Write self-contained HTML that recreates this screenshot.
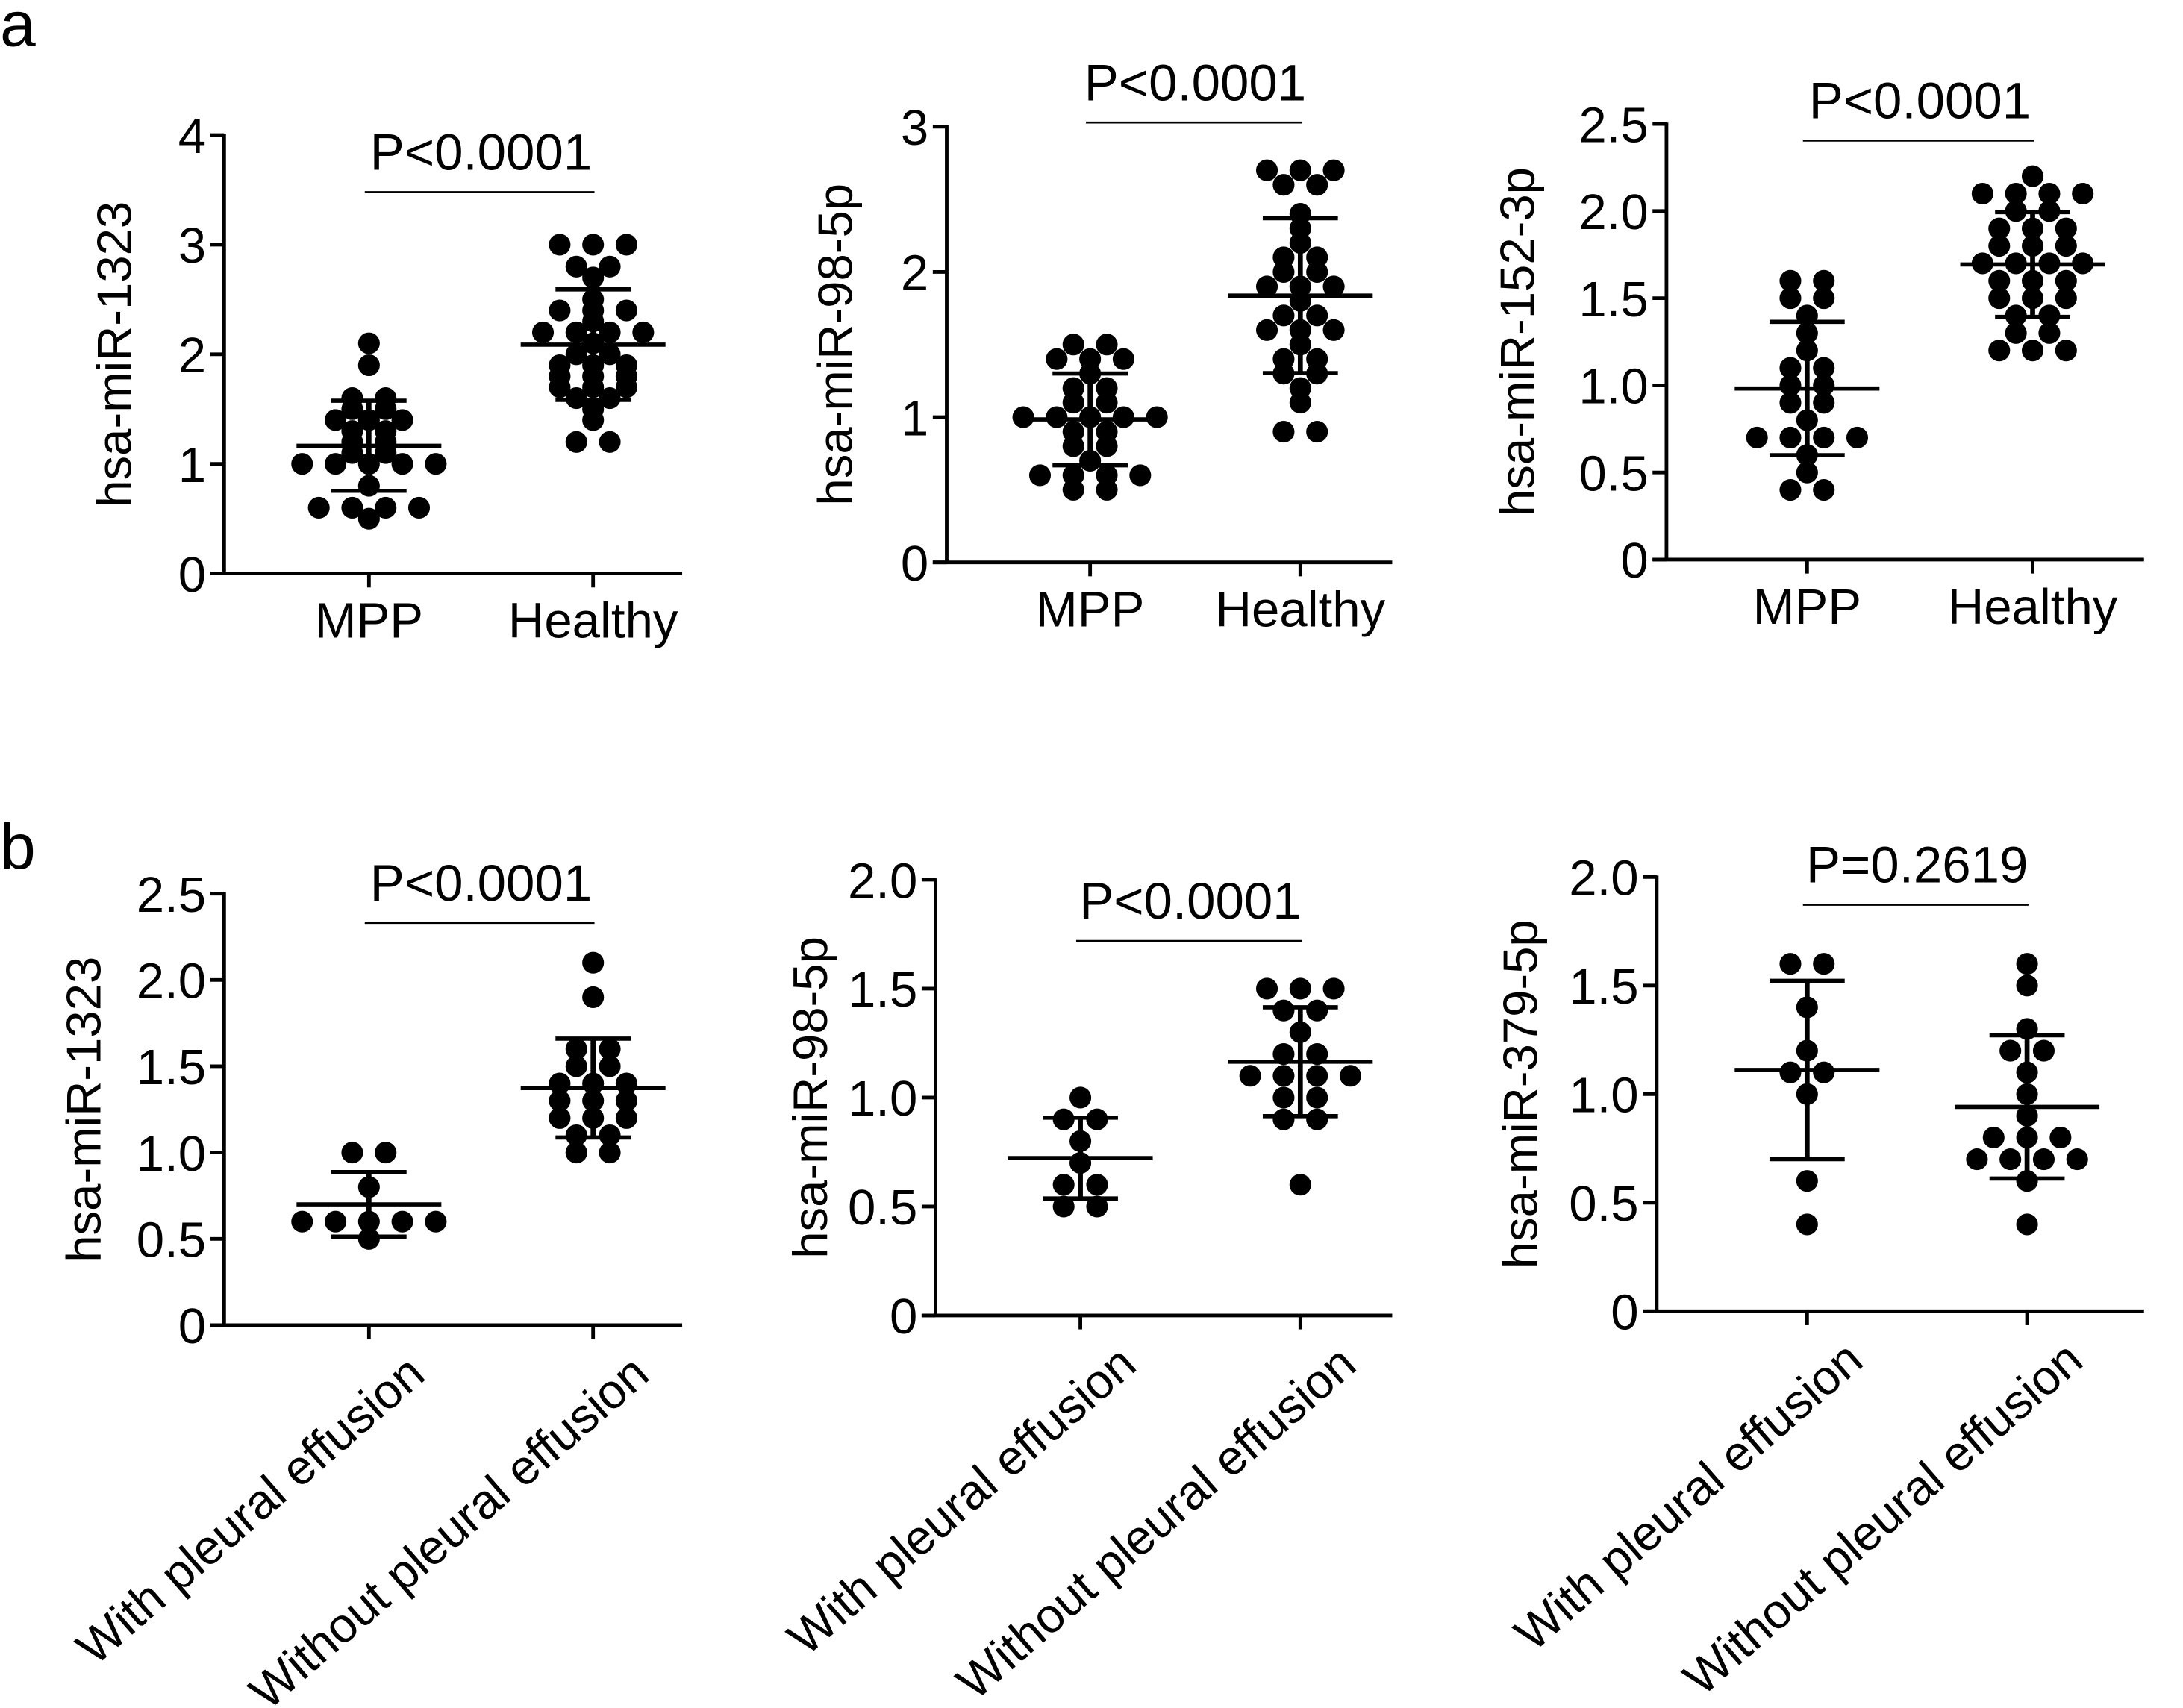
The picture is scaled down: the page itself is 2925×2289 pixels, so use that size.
<!DOCTYPE html>
<html><head><meta charset="utf-8"><style>
html,body{margin:0;padding:0;background:#fff;}
svg{display:block;}
text{font-family:"Liberation Sans",Arial,sans-serif;fill:#000;}
</style></head><body>
<svg id="fig" width="2925" height="2289" viewBox="0 0 1568 1227" xmlns="http://www.w3.org/2000/svg">
<text x="0" y="33" font-size="46">a</text>
<text x="0" y="624" font-size="46">b</text>
</svg>
<script>
// ---- data ----
const catsA = ["MPP","Healthy"];
const catsB = ["With pleural effusion","Without pleural effusion"];
const a1Mpp = [2.1,1.9,1.6,1.6,1.5,1.5,1.4,1.4,1.4,1.3,1.3,1.2,1.2,1.1,1.1,1.0,1.0,1.0,1.0,1.0,0.8,0.6,0.6,0.6,0.6,0.5];
const a1Healthy = [3,3,3,2.8,2.8,2.7,2.5,2.4,2.4,2.4,2.3,2.2,2.2,2.2,2.2,2.1,2.0,2.0,1.9,1.9,1.9,1.8,1.8,1.8,1.7,1.7,1.7,1.6,1.6,1.5,1.4,1.2,1.2];
const a2Mpp = [1.5,1.5,1.4,1.4,1.4,1.3,1.2,1.2,1.1,1.1,1.0,1.0,1.0,1.0,1.0,0.9,0.9,0.8,0.8,0.7,0.6,0.6,0.6,0.6,0.5,0.5];
const a2Healthy = [2.7,2.7,2.7,2.6,2.6,2.4,2.3,2.2,2.1,2.1,2.0,2.0,1.9,1.9,1.9,1.8,1.7,1.7,1.6,1.6,1.6,1.5,1.4,1.4,1.3,1.3,1.2,1.1,0.9,0.9];
const a3Mpp = [1.6,1.6,1.5,1.5,1.4,1.3,1.2,1.1,1.1,1.0,1.0,0.9,0.9,0.8,0.7,0.7,0.7,0.7,0.6,0.5,0.4,0.4];
const a3Healthy = [2.2,2.1,2.1,2.1,2.1,2.0,2.0,1.9,1.9,1.9,1.8,1.8,1.8,1.7,1.7,1.7,1.7,1.6,1.6,1.6,1.5,1.5,1.5,1.4,1.4,1.3,1.3,1.2,1.2,1.2];
const b1With = [1.0,1.0,0.8,0.6,0.6,0.6,0.6,0.6,0.5];
const b1Without = [2.1,1.9,1.6,1.6,1.5,1.5,1.4,1.4,1.4,1.3,1.3,1.3,1.2,1.2,1.2,1.1,1.1,1.0,1.0];
const b2With = [1.0,0.9,0.9,0.8,0.7,0.6,0.6,0.5,0.5];
const b2Without = [1.5,1.5,1.5,1.4,1.4,1.3,1.2,1.2,1.1,1.1,1.1,1.1,1.0,1.0,0.9,0.9,0.6];
const b3With = [1.6,1.6,1.4,1.2,1.1,1.1,1.0,0.6,0.4];
const b3Without = [1.6,1.5,1.3,1.2,1.2,1.1,1.0,0.9,0.8,0.8,0.8,0.7,0.7,0.7,0.7,0.6,0.4];
const ticksA1 = ["0","1","2","3","4"];
const ticksA2 = ["0","1","2","3"];
const ticksA3 = ["0","0.5","1.0","1.5","2.0","2.5"];
const ticksB1 = ["0","0.5","1.0","1.5","2.0","2.5"];
const ticksB2 = ["0","0.5","1.0","1.5","2.0"];
const ticksB3 = ["0","0.5","1.0","1.5","2.0"];
const pA1 = "P<0.0001", pA2 = "P<0.0001", pA3 = "P<0.0001";
const pB1 = "P<0.0001", pB2 = "P<0.0001", pB3 = "P=0.2619";

const NS = "http://www.w3.org/2000/svg";
const svg = document.getElementById("fig");
function el(tag, attrs, parent){
  const e = document.createElementNS(NS, tag);
  for (const k in attrs) e.setAttribute(k, attrs[k]);
  (parent||svg).appendChild(e);
  return e;
}
function meanSd(v){
  const m = v.reduce((a,b)=>a+b,0)/v.length;
  const s = Math.sqrt(v.reduce((a,b)=>a+(b-m)*(b-m),0)/(v.length-1));
  return [m,s];
}
function panel(cfg){
  const g = el("g", {});
  
  
  const ymax = parseFloat(cfg.ticks[cfg.ticks.length-1]);
  const y = v => cfg.y0 - (v/ymax)*(cfg.y0-cfg.yTop);
  const ya = el("line", {x1:cfg.ax, y1:cfg.yTop-1, x2:cfg.ax, y2:cfg.y0, stroke:"#000","stroke-width":2.6}, g);
  
  
  const xa = el("line", {x1:cfg.ax-10, y1:cfg.y0, x2:cfg.right, y2:cfg.y0, stroke:"#000","stroke-width":2.6}, g);
  
  
  cfg.ticks.forEach((t,i)=>{
    const v = parseFloat(t), yy = y(v);
    el("line", {x1:cfg.ax-10, y1:yy, x2:cfg.ax, y2:yy, stroke:"#000","stroke-width":2.6}, g);
    const tx = el("text", {x:cfg.ax-13, y:yy+13, "font-size":36, "text-anchor":"end"}, g);
    tx.textContent = t;
    
    
  });
  const yt = el("text", {x:0, y:0, "font-size":35, "text-anchor":"middle", transform:`translate(${cfg.titleX},${(cfg.y0+cfg.yTop)/2}) rotate(-90)`}, g);
  yt.textContent = cfg.title;
  
  
  cfg.cats.forEach((c,i)=>{
    const cx = cfg.cx[i];
    el("line", {x1:cx, y1:cfg.y0, x2:cx, y2:cfg.y0+10, stroke:"#000","stroke-width":2.6}, g);
    let t;
    if (cfg.rot){
      t = el("text", {x:0, y:0, "font-size":35, "text-anchor":"end", transform:`translate(${cx+42},${cfg.y0+38}) rotate(-41)`}, g);
    } else {
      t = el("text", {x:cx, y:cfg.y0+46, "font-size":36, "text-anchor":"middle"}, g);
    }
    t.textContent = c;
    
    
    const vals = cfg.series[i];
    const counts = {};
    vals.forEach(v=>{counts[v]=(counts[v]||0)+1;});
    const idx = {};
    vals.forEach(v=>{
      const n = counts[v]; const k = idx[v]=(idx[v]||0);
      idx[v]++;
      const off = (k-(n-1)/2)*24;
      const d = el("circle", {cx:cx+off, cy:y(v), r:7.8, fill:"#000"}, g);
      
      
    });
    const [m,s] = meanSd(vals);
    const ml = el("line", {x1:cx-52, y1:y(m), x2:cx+52, y2:y(m), stroke:"#000","stroke-width":3}, g);
    
    
    const sl = el("line", {x1:cx, y1:y(m+s), x2:cx, y2:y(m-s), stroke:"#000","stroke-width":3.6}, g);
    
    
    [m+s,m-s].forEach(v=>{
      const c2 = el("line", {x1:cx-27, y1:y(v), x2:cx+27, y2:y(v), stroke:"#000","stroke-width":3}, g);
      
      
    });
  });
  const pl = el("line", {x1:cfg.cx[0]-3, y1:cfg.pY, x2:cfg.cx[1]+1, y2:cfg.pY, stroke:"#000","stroke-width":1.4}, g);
  
  
  const pt = el("text", {x:(cfg.cx[0]+cfg.cx[1])/2, y:cfg.pY-16, "font-size":37, "text-anchor":"middle"}, g);
  pt.textContent = cfg.p;
  
  
}
panel({name:"panel-a1", ax:161, y0:412, yTop:97, right:490, cx:[265,426], cats:catsA, series:[a1Mpp,a1Healthy], ticks:ticksA1, title:"hsa-miR-1323", titleX:94, pY:138, p:pA1});
panel({name:"panel-a2", ax:680, y0:404, yTop:91, right:1000, cx:[783,934], cats:catsA, series:[a2Mpp,a2Healthy], ticks:ticksA2, title:"hsa-miR-98-5p", titleX:612, pY:88, p:pA2});
panel({name:"panel-a3", ax:1197, y0:402, yTop:89, right:1540, cx:[1298,1460], cats:catsA, series:[a3Mpp,a3Healthy], ticks:ticksA3, title:"hsa-miR-152-3p", titleX:1102, pY:101, p:pA3});
panel({name:"panel-b1", ax:161, y0:952, yTop:642, right:490, cx:[265,426], cats:catsB, series:[b1With,b1Without], ticks:ticksB1, title:"hsa-miR-1323", titleX:72, pY:663, p:pB1, rot:true});
panel({name:"panel-b2", ax:672, y0:945, yTop:632, right:1000, cx:[776,934], cats:catsB, series:[b2With,b2Without], ticks:ticksB2, title:"hsa-miR-98-5p", titleX:594, pY:676, p:pB2, rot:true});
panel({name:"panel-b3", ax:1190, y0:942, yTop:630, right:1540, cx:[1298,1456], cats:catsB, series:[b3With,b3Without], ticks:ticksB3, title:"hsa-miR-379-5p", titleX:1104, pY:650, p:pB3, rot:true});
</script>
</body></html>
